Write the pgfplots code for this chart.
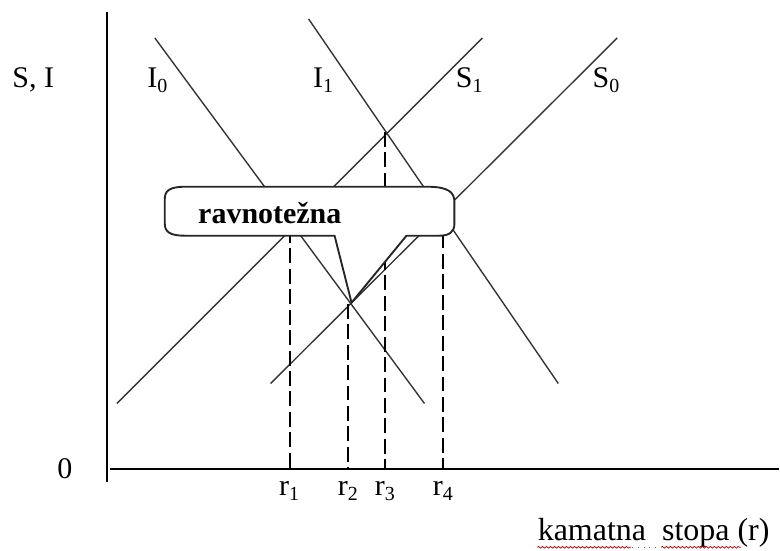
\documentclass[border=0pt]{standalone}
\usepackage{fontspec}
\setmainfont{Liberation Serif}
\usepackage{pgfplots}
\pgfplotsset{compat=1.18}
\usetikzlibrary{decorations.pathmorphing}

\begin{document}
\fontsize{12}{14}\selectfont
\begin{tikzpicture}
\begin{axis}[
  x=0.4pt, y=0.4pt,
  xmin=0, xmax=780, ymin=0, ymax=551,
  y dir=reverse,
  enlargelimits=false,
  hide axis,
  clip=false,
]
% frame that fixes the picture size
\path (axis cs:0,0) rectangle (axis cs:780,551);

% curves (pixel-like coordinates, y downwards)
\addplot[draw=black!80, line width=0.55pt] coordinates {(155,38) (425,404)};   % I0
\addplot[draw=black!80, line width=0.55pt] coordinates {(309,19) (559,384)};   % I1
\addplot[draw=black!80, line width=0.55pt] coordinates {(117,404) (483,38)};   % S1
\addplot[draw=black!80, line width=0.55pt] coordinates {(271,384) (618,38)};   % S0

% equilibrium drop lines
\addplot[black, line width=0.75pt, dash pattern=on 6pt off 2.2pt] coordinates {(290,228) (290,470)};
\addplot[black, line width=0.75pt, dash pattern=on 6pt off 2.2pt] coordinates {(348.5,304) (348.5,470)};
\addplot[black, line width=0.75pt, dash pattern=on 6pt off 2.2pt] coordinates {(385.5,132) (385.5,470)};
\addplot[black, line width=0.75pt, dash pattern=on 6pt off 2.2pt] coordinates {(444,213) (444,470)};

% axes
\draw[line width=0.8pt] (axis cs:107,12) -- (axis cs:107,483);
\draw[line width=0.8pt] (axis cs:110,470) -- (axis cs:780,470);

% callout
\draw[fill=white, line width=0.75pt, draw=black!85]
  (axis cs:352,303) -- (axis cs:335,236) -- (axis cs:185,236)
  .. controls (axis cs:170,236) and (axis cs:165,232) .. (axis cs:165,224)
  -- (axis cs:165,199)
  .. controls (axis cs:165,191) and (axis cs:170,187) .. (axis cs:185,187)
  -- (axis cs:428,187)
  .. controls (axis cs:448,187) and (axis cs:455,192) .. (axis cs:455,202)
  -- (axis cs:455,224)
  .. controls (axis cs:455,232) and (axis cs:450,236) .. (axis cs:440,236)
  -- (axis cs:407,236) -- cycle;
\node[anchor=base west, inner sep=0pt] at (axis cs:198,224) {\textbf{ravnotežna}};

% labels
\node[anchor=base west, inner sep=0pt] at (axis cs:12,88) {S, I};
\node[anchor=base west, inner sep=0pt] at (axis cs:147,88) {I\textsubscript{0}};
\node[anchor=base west, inner sep=0pt] at (axis cs:313,88) {I\textsubscript{1}};
\node[anchor=base west, inner sep=0pt] at (axis cs:456,88) {S\textsubscript{1}};
\node[anchor=base west, inner sep=0pt] at (axis cs:593,88) {S\textsubscript{0}};
\node[anchor=center, inner sep=0pt] at (axis cs:65,469) {0};
\node[anchor=north, inner sep=0pt] at (axis cs:290,482) {r\textsubscript{1}};
\node[anchor=north, inner sep=0pt] at (axis cs:349,482) {r\textsubscript{2}};
\node[anchor=north, inner sep=0pt] at (axis cs:386,482) {r\textsubscript{3}};
\node[anchor=north, inner sep=0pt] at (axis cs:444,482) {r\textsubscript{4}};
\node[anchor=base west, inner sep=0pt, font=\fontsize{12.8}{14}\selectfont] at (axis cs:538,541) {kamatna\ \ stopa (r)};

% spell-check squiggles under the axis title
\draw[red!80!black, line width=0.3pt, decorate, decoration={snake, amplitude=0.35pt, segment length=1.6pt}]
  (axis cs:538,548) -- (axis cs:632,548);
\draw[blue!70, line width=0.3pt, dotted] (axis cs:633,548) -- (axis cs:660,548);
\draw[red!80!black, line width=0.3pt, decorate, decoration={snake, amplitude=0.35pt, segment length=1.6pt}]
  (axis cs:662,548) -- (axis cs:742,548);
\end{axis}
\end{tikzpicture}
\end{document}
